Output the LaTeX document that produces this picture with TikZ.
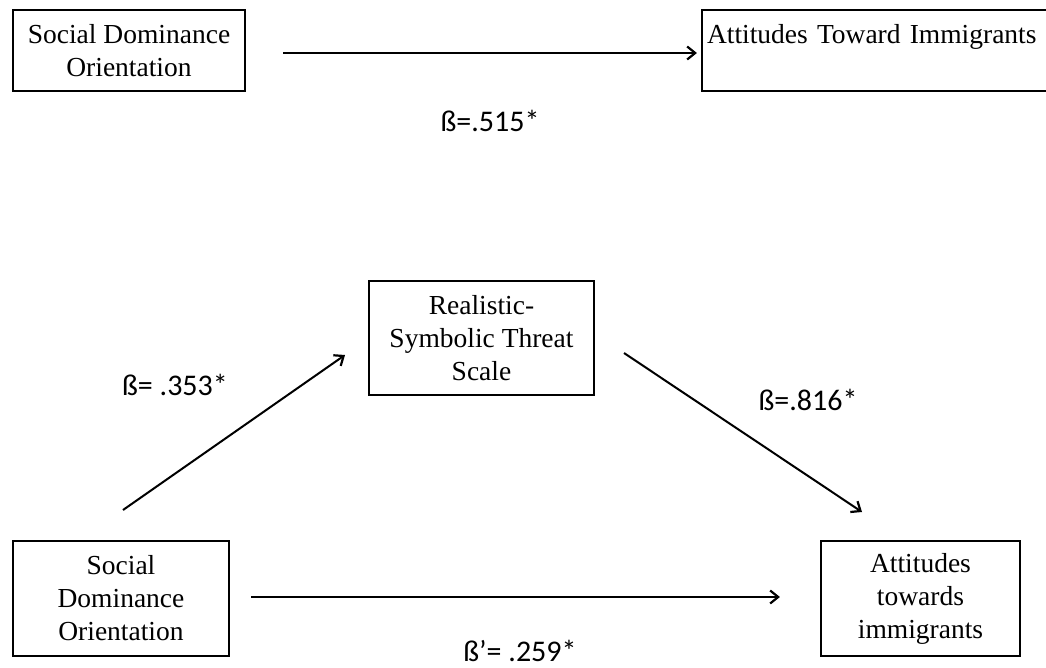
\documentclass[tikz,border=0pt]{standalone}
\usepackage{fontspec}
\setmainfont{Liberation Serif}
\newfontfamily\lblfont{Carlito}
\usetikzlibrary{arrows.meta}
\begin{document}
\begin{tikzpicture}[x=1pt,y=-1pt,
  box/.style={draw=black,line width=2.2pt,rectangle,inner sep=0pt,
    font=\fontsize{27.5}{33}\selectfont,align=center},
  arr/.style={line width=2pt,-{Straight Barb[length=8pt,width=13pt,line width=2.2pt]}},
  lbl/.style={font=\lblfont\fontsize{30}{36}\selectfont,inner sep=0pt}]
\useasboundingbox (0,0) rectangle (1046,668);
% top
\node[box,minimum width=232pt,minimum height=81pt] (sdo1) at (129,50.5) {Social Dominance\\Orientation};
\node[box,minimum width=352pt,minimum height=81pt,text width=342pt,align=left] (ati1) at (878,50.5) {Attitudes Toward Immigrants\\\mbox{}};
\draw[arr,shorten <=37pt,shorten >=4pt] ([yshift=-2.5pt]sdo1.east) -- ([yshift=-2.5pt]ati1.west);
\node[lbl] (b1) at (490,121) {ß=.515*};
% bottom
\node[box,minimum width=225pt,minimum height=114pt] (rst) at (481.5,338) {Realistic-\\Symbolic Threat\\Scale};
\node[box,minimum width=216pt,minimum height=115pt] (sdo2) at (121,598.5) {Social\\Dominance\\Orientation};
\node[box,minimum width=199pt,minimum height=115pt] (ati2) at (920.5,598.5) {Attitudes\\towards\\immigrants};
\coordinate (p1) at (123,510);
\coordinate (p2) at (345,355);
\coordinate (p3) at (624,353);
\coordinate (p4) at (862,512);
\draw[arr] (p1) -- (p2);
\draw[arr] (p3) -- (p4);
\draw[arr,shorten <=21pt,shorten >=40pt] ([yshift=1.5pt]sdo2.east) -- ([yshift=1.5pt]ati2.west);
\node[lbl] (b2) at (175,385) {ß= .353*};
\node[lbl] (b3) at (808,400) {ß=.816*};
\node[lbl] (b4) at (520,651) {ß’= .259*};
\end{tikzpicture}
\end{document}
